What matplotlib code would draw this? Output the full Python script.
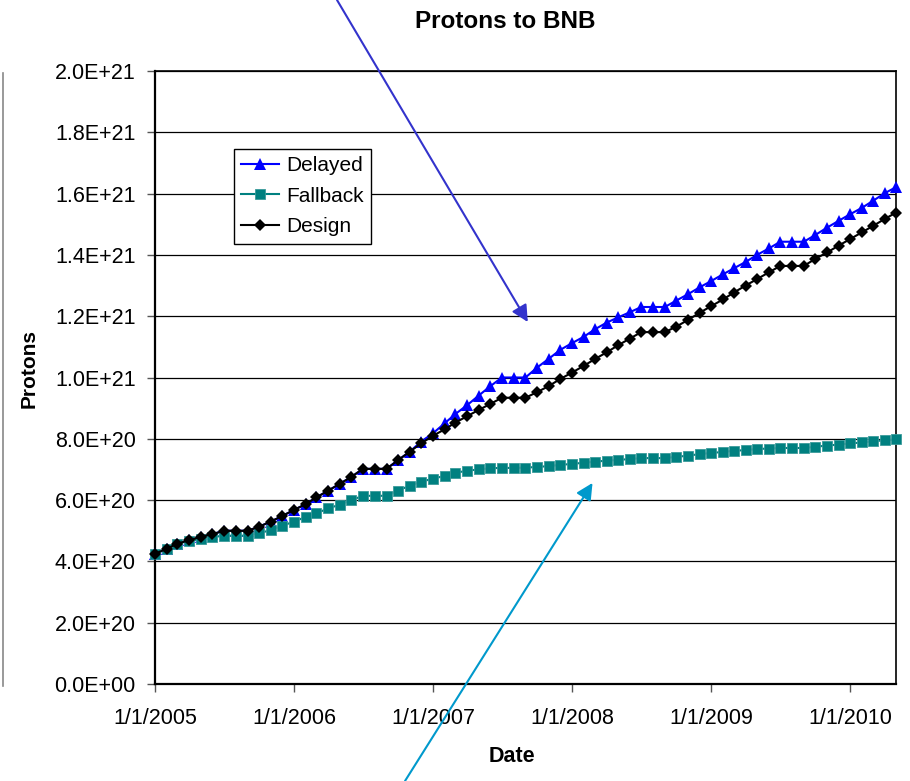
import matplotlib
matplotlib.use("Agg")
import matplotlib.pyplot as plt
import matplotlib.dates as mdates
from matplotlib.ticker import FuncFormatter, MultipleLocator
from matplotlib.lines import Line2D
import pandas as pd
import datetime as dt

plt.rcParams['font.family'] = ['Liberation Sans', 'DejaVu Sans']

# ---- data (units of 1E20 protons), monthly from Jan 2005 to May 2010 ----
start_month = "2005-01-01"
n_months = 65

delayed = [4.25, 4.41, 4.58, 4.69, 4.80, 4.89, 5.00, 5.00, 5.00, 5.13, 5.30, 5.48,
           5.68, 5.87, 6.09, 6.31, 6.53, 6.76, 7.02, 7.02, 7.02, 7.30, 7.58, 7.91,
           8.18, 8.51, 8.81, 9.10, 9.41, 9.72, 10.00, 10.00, 10.00, 10.32, 10.61, 10.90,
           11.12, 11.33, 11.57, 11.79, 11.96, 12.13, 12.30, 12.30, 12.30, 12.51, 12.72, 12.94,
           13.15, 13.37, 13.56, 13.77, 14.00, 14.21, 14.43, 14.43, 14.43, 14.65, 14.89, 15.11,
           15.33, 15.54, 15.76, 16.01, 16.21]

fallback = [4.25, 4.41, 4.58, 4.67, 4.73, 4.79, 4.84, 4.84, 4.84, 4.92, 5.02, 5.16,
            5.30, 5.45, 5.57, 5.73, 5.85, 6.00, 6.14, 6.14, 6.14, 6.31, 6.47, 6.60,
            6.70, 6.79, 6.89, 6.96, 7.00, 7.04, 7.05, 7.05, 7.06, 7.08, 7.11, 7.15,
            7.18, 7.22, 7.25, 7.29, 7.31, 7.34, 7.37, 7.37, 7.37, 7.41, 7.45, 7.50,
            7.54, 7.57, 7.61, 7.63, 7.67, 7.68, 7.70, 7.70, 7.70, 7.74, 7.78, 7.81,
            7.85, 7.88, 7.92, 7.95, 7.98]

design = [4.25, 4.41, 4.58, 4.69, 4.80, 4.89, 5.00, 5.00, 5.00, 5.13, 5.30, 5.48,
          5.68, 5.87, 6.09, 6.31, 6.53, 6.76, 7.02, 7.02, 7.02, 7.30, 7.58, 7.85,
          8.10, 8.31, 8.53, 8.74, 8.94, 9.14, 9.34, 9.34, 9.34, 9.52, 9.72, 9.95,
          10.16, 10.38, 10.60, 10.82, 11.05, 11.27, 11.48, 11.48, 11.48, 11.66, 11.88, 12.11,
          12.33, 12.55, 12.77, 13.00, 13.21, 13.43, 13.64, 13.64, 13.64, 13.87, 14.08, 14.30,
          14.52, 14.74, 14.94, 15.17, 15.38]

scale = 1e20
series_names = ["Delayed", "Fallback", "Design"]
title_text = "Protons to BNB"
xlabel_text = "Date"
ylabel_text = "Protons"

# annotation arrow targets (date, value in 1E20)
arrow1_target = (dt.datetime(2007, 9, 7), 11.81)
arrow2_target = (dt.datetime(2008, 2, 24), 6.56)

dates = pd.date_range(start_month, periods=n_months, freq="MS")

W, H = 910, 781
fig = plt.figure(figsize=(W / 100, H / 100), dpi=100)
ax = fig.add_axes([155 / W, 1 - 684 / H, (896 - 155) / W, (684 - 71) / H])

ax.plot(dates, [v * scale for v in delayed], color="#0000FF", lw=1.5,
        marker="^", markersize=8.5, markeredgewidth=0, label=series_names[0],
        clip_on=False, zorder=3)
ax.plot(dates, [v * scale for v in fallback], color="#008080", lw=1.5,
        marker="s", markersize=7, markeredgecolor="#3a9a9a", markeredgewidth=0.6,
        label=series_names[1], clip_on=False, zorder=4)
ax.plot(dates, [v * scale for v in design], color="#000000", lw=1.5,
        marker="D", markersize=6.3, markeredgewidth=0, label=series_names[2],
        clip_on=False, zorder=5)

ax.set_ylim(0, 2.0e21)
ax.set_xlim(dates[0], dates[-1])
ax.yaxis.set_major_locator(MultipleLocator(2e20))
ax.yaxis.set_major_formatter(FuncFormatter(lambda v, p: f"{v:.1E}"))
ax.xaxis.set_major_locator(mdates.YearLocator())
ax.xaxis.set_major_formatter(FuncFormatter(
    lambda v, p: f"{mdates.num2date(v).month}/{mdates.num2date(v).day}/{mdates.num2date(v).year}"))

ax.grid(axis="y", color="#000000", lw=0.9)
ax.set_axisbelow(True)
ax.tick_params(axis="both", direction="out", length=6, width=1, labelsize=15.5,
               color="#555555")
ax.tick_params(axis="y", pad=8)
ax.tick_params(axis="x", pad=11)

for side in ["left", "bottom"]:
    ax.spines[side].set_linewidth(1.6)
    ax.spines[side].set_color("black")
for side in ["top", "right"]:
    ax.spines[side].set_linewidth(1.2)
    ax.spines[side].set_color("black")

ax.set_xlabel(xlabel_text, fontsize=15.5, fontweight="bold")
ax.set_ylabel(ylabel_text, fontsize=15, fontweight="bold")
ax.yaxis.set_label_coords((39 - 155) / (896 - 155), (684 - 369) / (684 - 71))
ax.xaxis.set_label_coords((512 - 155) / (896 - 155), -(746 - 684) / (684 - 71))

fig.text(505 / W, 1 - 21 / H, title_text, ha="center", va="center",
         fontsize=17.5, fontweight="bold")

leg = ax.legend(loc="upper left",
                bbox_to_anchor=((234 - 155) / (896 - 155), (684 - 149) / (684 - 71)),
                borderaxespad=0, fontsize=15, frameon=True, fancybox=False,
                edgecolor="black", framealpha=1, handlelength=1.8,
                handletextpad=0.35, labelspacing=0.55, borderpad=0.35, numpoints=1)
leg.get_frame().set_linewidth(1.0)
leg.set_zorder(10)

# annotation arrows
ax.annotate("", xy=(arrow1_target[0], arrow1_target[1] * scale), xycoords="data",
            xytext=(337 / W, 1.0), textcoords="figure fraction",
            arrowprops=dict(arrowstyle="-|>", color="#3333CC", lw=1.5,
                            mutation_scale=25, shrinkA=0, shrinkB=0),
            annotation_clip=False, zorder=20)
ax.annotate("", xy=(arrow2_target[0], arrow2_target[1] * scale), xycoords="data",
            xytext=(405 / W, 0.0), textcoords="figure fraction",
            arrowprops=dict(arrowstyle="-|>", color="#0099CC", lw=1.5,
                            mutation_scale=25, shrinkA=0, shrinkB=0),
            annotation_clip=False, zorder=20)

# fragment of neighbouring chart border at far left
fig.add_artist(Line2D([3 / W, 3 / W], [1 - 73 / H, 1 - 686 / H], color="#888888", lw=1.2))

fig.savefig("out.png", dpi=100)
